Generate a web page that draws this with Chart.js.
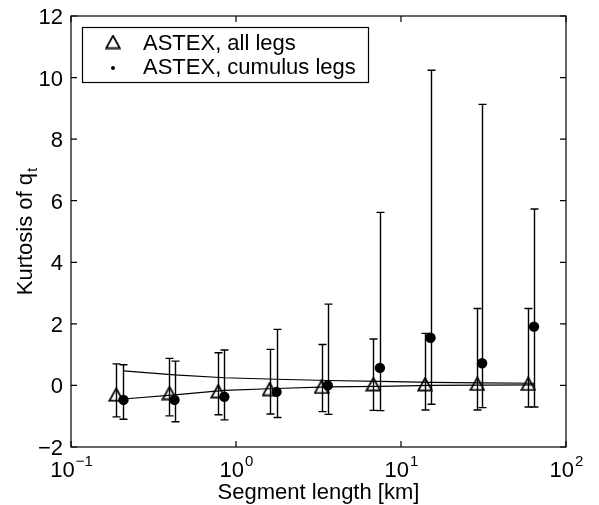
<!DOCTYPE html>
<html>
<head>
<meta charset="utf-8">
<script src="https://cdn.jsdelivr.net/npm/chart.js@4.4.1/dist/chart.umd.min.js"></script>
<style>
  html, body { margin: 0; padding: 0; background: #fff; }
  #c { display: block; }
</style>
</head>
<body>
<canvas id="c" width="599" height="505"></canvas>
<script>
// ---- data ----
const xAll   = [0.188, 0.395, 0.78, 1.6, 3.3, 6.8, 14, 29, 59];
const kAll   = [-0.30, -0.25, -0.19, -0.12, -0.05, 0.04, 0.04, 0.05, 0.05];
const kAllHi = [0.70, 0.88, 1.06, 1.17, 1.33, 1.51, 1.69, 2.50, 2.50];
const kAllLo = [-1.02, -0.99, -0.95, -0.93, -0.85, -0.81, -0.80, -0.80, -0.70];

const xCu    = [0.208, 0.424, 0.85, 1.76, 3.6, 7.45, 15.1, 31, 64];
const kCu    = [-0.47, -0.47, -0.37, -0.21, 0.0, 0.57, 1.55, 0.72, 1.91];
const kCuHi  = [0.67, 0.79, 1.15, 1.82, 2.64, 5.62, 10.24, 9.13, 5.73];
const kCuLo  = [-1.10, -1.18, -1.12, -1.04, -0.94, -0.82, -0.61, -0.72, -0.70];

const lineUpper = [0.47, 0.34, 0.25, 0.20, 0.16, 0.13, 0.10, 0.08, 0.07];
const lineLower = [-0.44, -0.31, -0.16, -0.10, -0.05, -0.03, 0.0, 0.01, 0.02];

const xTicks      = [0.1, 1, 10, 100];
const xTickBase   = ['10', '10', '10', '10'];
const xTickExp    = ['\u22121', '0', '1', '2'];
const yTicks      = [-2, 0, 2, 4, 6, 8, 10, 12];
const yTickLabels = ['\u22122', '0', '2', '4', '6', '8', '10', '12'];

const seriesLabels = ['ASTEX, all legs', 'ASTEX, cumulus legs'];
const xTitle = 'Segment length [km]';
const yTitleMain = 'Kurtosis of q';
const yTitleSub = 't';

// ---- helpers ----
const FONT = '"Liberation Sans", Arial, Helvetica, sans-serif';
function triCanvas() {
  const c = document.createElement('canvas');
  c.width = 16; c.height = 15;
  const g = c.getContext('2d');
  g.strokeStyle = '#000'; g.lineWidth = 1.8;
  g.beginPath(); g.moveTo(8, 1.3); g.lineTo(14.8, 13.6); g.lineTo(1.2, 13.6); g.closePath(); g.stroke();
  return c;
}
const TRI = triCanvas();
const pts = (xs, ys) => xs.map((x, i) => ({ x: x, y: ys[i] }));

const overlay = {
  id: 'overlay',
  beforeDatasetsDraw(chart) {
    const ctx = chart.ctx, xs = chart.scales.x, ys = chart.scales.y;
    ctx.save();
    ctx.strokeStyle = '#000';
    ctx.lineWidth = 1.4;
    const bars = (X, H, L) => {
      X.forEach((xv, i) => {
        const px = Math.round(xs.getPixelForValue(xv)) + 0.5;
        const top = ys.getPixelForValue(H[i]);
        const bot = ys.getPixelForValue(L[i]);
        ctx.beginPath();
        ctx.moveTo(px, top); ctx.lineTo(px, bot);
        ctx.moveTo(px - 4, top); ctx.lineTo(px + 4, top);
        ctx.moveTo(px - 4, bot); ctx.lineTo(px + 4, bot);
        ctx.stroke();
      });
    };
    bars(xAll, kAllHi, kAllLo);
    bars(xCu, kCuHi, kCuLo);
    ctx.restore();
  },
  afterDraw(chart) {
    const ctx = chart.ctx, a = chart.chartArea, xs = chart.scales.x, ys = chart.scales.y;
    ctx.save();
    ctx.strokeStyle = '#000';
    ctx.fillStyle = '#000';
    ctx.lineWidth = 1.2;
    // box
    ctx.strokeRect(a.left, a.top, a.right - a.left, a.bottom - a.top);
    // inward ticks
    const TL = 6;
    ctx.beginPath();
    yTicks.forEach(v => {
      const py = ys.getPixelForValue(v);
      ctx.moveTo(a.left, py); ctx.lineTo(a.left + TL, py);
      ctx.moveTo(a.right, py); ctx.lineTo(a.right - TL, py);
    });
    xTicks.forEach(v => {
      const px = xs.getPixelForValue(v);
      ctx.moveTo(px, a.bottom); ctx.lineTo(px, a.bottom - TL);
      ctx.moveTo(px, a.top); ctx.lineTo(px, a.top + TL);
    });
    ctx.stroke();
    // y tick labels
    ctx.font = '22px ' + FONT;
    ctx.textAlign = 'right';
    ctx.textBaseline = 'alphabetic';
    yTicks.forEach((v, i) => {
      const py = ys.getPixelForValue(v);
      ctx.fillText(yTickLabels[i], a.left - 8, py + 8);
    });
    // x tick labels with superscript exponent
    ctx.textAlign = 'left';
    xTicks.forEach((v, i) => {
      const px = xs.getPixelForValue(v);
      ctx.font = '22px ' + FONT;
      const wb = ctx.measureText(xTickBase[i]).width;
      ctx.font = '15px ' + FONT;
      const we = ctx.measureText(xTickExp[i]).width;
      const x0 = px - (wb + we) / 2;
      ctx.font = '22px ' + FONT;
      ctx.fillText(xTickBase[i], x0, a.bottom + 30);
      ctx.font = '15px ' + FONT;
      ctx.fillText(xTickExp[i], x0 + wb + 1, a.bottom + 19);
    });
    // x title
    ctx.font = '22px ' + FONT;
    ctx.textAlign = 'center';
    ctx.fillText(xTitle, (a.left + a.right) / 2, a.bottom + 52);
    // y title (rotated, with subscript)
    ctx.save();
    ctx.translate(32, (a.top + a.bottom) / 2);
    ctx.rotate(-Math.PI / 2);
    ctx.font = '22px ' + FONT;
    const wm = ctx.measureText(yTitleMain).width;
    ctx.font = '15px ' + FONT;
    const ws = ctx.measureText(yTitleSub).width;
    const s0 = -(wm + ws + 1) / 2;
    ctx.textAlign = 'left';
    ctx.font = '22px ' + FONT;
    ctx.fillText(yTitleMain, s0, 0);
    ctx.font = '15px ' + FONT;
    ctx.fillText(yTitleSub, s0 + wm + 1, 5);
    ctx.restore();
    // legend
    const lx = 82, ly = 27, lw = 286, lh = 55;
    ctx.fillStyle = '#fff';
    ctx.fillRect(lx, ly, lw, lh);
    ctx.fillStyle = '#000';
    ctx.lineWidth = 1.2;
    ctx.strokeRect(lx + 0.5, ly + 0.5, lw, lh);
    ctx.drawImage(TRI, 113 - TRI.width / 2, 42 - TRI.height / 2);
    ctx.beginPath(); ctx.arc(113, 68, 2, 0, Math.PI * 2); ctx.fill();
    ctx.font = '22px ' + FONT;
    ctx.textAlign = 'left';
    ctx.fillText(chart.data.datasets[2].label, 143, 50);
    ctx.fillText(chart.data.datasets[3].label, 143, 74);
    ctx.restore();
  }
};

new Chart(document.getElementById('c'), {
  type: 'scatter',
  data: {
    datasets: [
      { label: 'upper', data: pts(xCu, lineUpper), showLine: true, borderColor: '#000', borderWidth: 1.2, pointRadius: 0, fill: false },
      { label: 'lower', data: pts(xCu, lineLower), showLine: true, borderColor: '#000', borderWidth: 1.2, pointRadius: 0, fill: false },
      { label: seriesLabels[0], data: pts(xAll, kAll), showLine: false, pointStyle: TRI, pointRadius: 7, borderColor: '#000', backgroundColor: 'rgba(0,0,0,0)' },
      { label: seriesLabels[1], data: pts(xCu, kCu), showLine: false, pointStyle: 'circle', pointRadius: 5.2, borderWidth: 0, borderColor: '#000', backgroundColor: '#000' }
    ]
  },
  options: {
    responsive: false,
    animation: false,
    devicePixelRatio: 1,
    layout: { padding: { left: 71, right: 33, top: 16, bottom: 58 } },
    plugins: { legend: { display: false }, tooltip: { enabled: false } },
    scales: {
      x: { type: 'logarithmic', min: 0.1, max: 100, display: false },
      y: { type: 'linear', min: -2, max: 12, display: false }
    }
  },
  plugins: [overlay]
});
</script>
</body>
</html>
